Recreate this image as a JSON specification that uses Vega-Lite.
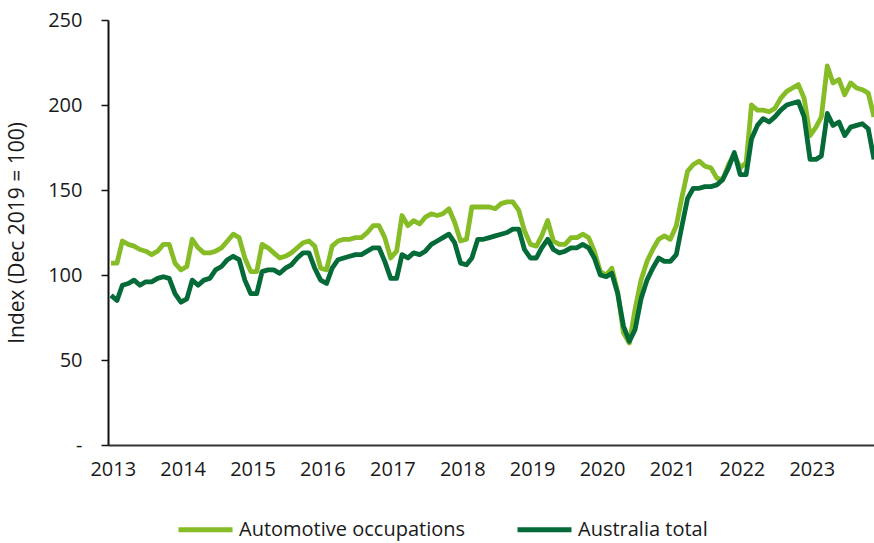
{
  "$schema": "https://vega.github.io/schema/vega-lite/v6.json",
  "width": 766,
  "height": 425,
  "autosize": {"type": "none"},
  "padding": {"left": 108, "top": 20, "right": 0, "bottom": 98},
  "background": "white",
  "config": {
    "view": {"stroke": null},
    "font": "Open Sans",
    "axis": {"labelFont": "Open Sans", "titleFont": "Open Sans", "labelColor": "#1a1a1a", "titleColor": "#1a1a1a", "grid": false},
    "legend": {"labelFont": "Open Sans", "labelColor": "#1a1a1a"}
  },
  "data": {
    "values": [
      {"month":"2013-01-01","Automotive occupations":107,"Australia total":88},
      {"month":"2013-02-01","Automotive occupations":107,"Australia total":85},
      {"month":"2013-03-01","Automotive occupations":120,"Australia total":94},
      {"month":"2013-04-01","Automotive occupations":118,"Australia total":95},
      {"month":"2013-05-01","Automotive occupations":117,"Australia total":97},
      {"month":"2013-06-01","Automotive occupations":115,"Australia total":94},
      {"month":"2013-07-01","Automotive occupations":114,"Australia total":96},
      {"month":"2013-08-01","Automotive occupations":112,"Australia total":96},
      {"month":"2013-09-01","Automotive occupations":114,"Australia total":98},
      {"month":"2013-10-01","Automotive occupations":118,"Australia total":99},
      {"month":"2013-11-01","Automotive occupations":118,"Australia total":98},
      {"month":"2013-12-01","Automotive occupations":107,"Australia total":89},
      {"month":"2014-01-01","Automotive occupations":103,"Australia total":84},
      {"month":"2014-02-01","Automotive occupations":105,"Australia total":86},
      {"month":"2014-03-01","Automotive occupations":121,"Australia total":97},
      {"month":"2014-04-01","Automotive occupations":116,"Australia total":94},
      {"month":"2014-05-01","Automotive occupations":113,"Australia total":97},
      {"month":"2014-06-01","Automotive occupations":113,"Australia total":98},
      {"month":"2014-07-01","Automotive occupations":114,"Australia total":103},
      {"month":"2014-08-01","Automotive occupations":116,"Australia total":105},
      {"month":"2014-09-01","Automotive occupations":120,"Australia total":109},
      {"month":"2014-10-01","Automotive occupations":124,"Australia total":111},
      {"month":"2014-11-01","Automotive occupations":122,"Australia total":109},
      {"month":"2014-12-01","Automotive occupations":110,"Australia total":97},
      {"month":"2015-01-01","Automotive occupations":102,"Australia total":89},
      {"month":"2015-02-01","Automotive occupations":102,"Australia total":89},
      {"month":"2015-03-01","Automotive occupations":118,"Australia total":102},
      {"month":"2015-04-01","Automotive occupations":116,"Australia total":103},
      {"month":"2015-05-01","Automotive occupations":113,"Australia total":103},
      {"month":"2015-06-01","Automotive occupations":110,"Australia total":101},
      {"month":"2015-07-01","Automotive occupations":111,"Australia total":104},
      {"month":"2015-08-01","Automotive occupations":113,"Australia total":106},
      {"month":"2015-09-01","Automotive occupations":116,"Australia total":110},
      {"month":"2015-10-01","Automotive occupations":119,"Australia total":113},
      {"month":"2015-11-01","Automotive occupations":120,"Australia total":113},
      {"month":"2015-12-01","Automotive occupations":117,"Australia total":104},
      {"month":"2016-01-01","Automotive occupations":104,"Australia total":97},
      {"month":"2016-02-01","Automotive occupations":103,"Australia total":95},
      {"month":"2016-03-01","Automotive occupations":117,"Australia total":104},
      {"month":"2016-04-01","Automotive occupations":120,"Australia total":109},
      {"month":"2016-05-01","Automotive occupations":121,"Australia total":110},
      {"month":"2016-06-01","Automotive occupations":121,"Australia total":111},
      {"month":"2016-07-01","Automotive occupations":122,"Australia total":112},
      {"month":"2016-08-01","Automotive occupations":122,"Australia total":112},
      {"month":"2016-09-01","Automotive occupations":125,"Australia total":114},
      {"month":"2016-10-01","Automotive occupations":129,"Australia total":116},
      {"month":"2016-11-01","Automotive occupations":129,"Australia total":116},
      {"month":"2016-12-01","Automotive occupations":122,"Australia total":108},
      {"month":"2017-01-01","Automotive occupations":110,"Australia total":98},
      {"month":"2017-02-01","Automotive occupations":114,"Australia total":98},
      {"month":"2017-03-01","Automotive occupations":135,"Australia total":112},
      {"month":"2017-04-01","Automotive occupations":129,"Australia total":110},
      {"month":"2017-05-01","Automotive occupations":132,"Australia total":113},
      {"month":"2017-06-01","Automotive occupations":130,"Australia total":112},
      {"month":"2017-07-01","Automotive occupations":134,"Australia total":114},
      {"month":"2017-08-01","Automotive occupations":136,"Australia total":118},
      {"month":"2017-09-01","Automotive occupations":135,"Australia total":120},
      {"month":"2017-10-01","Automotive occupations":136,"Australia total":122},
      {"month":"2017-11-01","Automotive occupations":139,"Australia total":124},
      {"month":"2017-12-01","Automotive occupations":131,"Australia total":119},
      {"month":"2018-01-01","Automotive occupations":120,"Australia total":107},
      {"month":"2018-02-01","Automotive occupations":121,"Australia total":106},
      {"month":"2018-03-01","Automotive occupations":140,"Australia total":110},
      {"month":"2018-04-01","Automotive occupations":140,"Australia total":121},
      {"month":"2018-05-01","Automotive occupations":140,"Australia total":121},
      {"month":"2018-06-01","Automotive occupations":140,"Australia total":122},
      {"month":"2018-07-01","Automotive occupations":139,"Australia total":123},
      {"month":"2018-08-01","Automotive occupations":142,"Australia total":124},
      {"month":"2018-09-01","Automotive occupations":143,"Australia total":125},
      {"month":"2018-10-01","Automotive occupations":143,"Australia total":127},
      {"month":"2018-11-01","Automotive occupations":138,"Australia total":127},
      {"month":"2018-12-01","Automotive occupations":126,"Australia total":115},
      {"month":"2019-01-01","Automotive occupations":118,"Australia total":110},
      {"month":"2019-02-01","Automotive occupations":117,"Australia total":110},
      {"month":"2019-03-01","Automotive occupations":123,"Australia total":116},
      {"month":"2019-04-01","Automotive occupations":132,"Australia total":121},
      {"month":"2019-05-01","Automotive occupations":120,"Australia total":115},
      {"month":"2019-06-01","Automotive occupations":118,"Australia total":113},
      {"month":"2019-07-01","Automotive occupations":118,"Australia total":114},
      {"month":"2019-08-01","Automotive occupations":122,"Australia total":116},
      {"month":"2019-09-01","Automotive occupations":122,"Australia total":116},
      {"month":"2019-10-01","Automotive occupations":124,"Australia total":118},
      {"month":"2019-11-01","Automotive occupations":122,"Australia total":116},
      {"month":"2019-12-01","Automotive occupations":114,"Australia total":110},
      {"month":"2020-01-01","Automotive occupations":102,"Australia total":100},
      {"month":"2020-02-01","Automotive occupations":100,"Australia total":99},
      {"month":"2020-03-01","Automotive occupations":104,"Australia total":101},
      {"month":"2020-04-01","Automotive occupations":90,"Australia total":89},
      {"month":"2020-05-01","Automotive occupations":66,"Australia total":70},
      {"month":"2020-06-01","Automotive occupations":60,"Australia total":61},
      {"month":"2020-07-01","Automotive occupations":80,"Australia total":68},
      {"month":"2020-08-01","Automotive occupations":97,"Australia total":86},
      {"month":"2020-09-01","Automotive occupations":108,"Australia total":97},
      {"month":"2020-10-01","Automotive occupations":115,"Australia total":104},
      {"month":"2020-11-01","Automotive occupations":121,"Australia total":110},
      {"month":"2020-12-01","Automotive occupations":123,"Australia total":108},
      {"month":"2021-01-01","Automotive occupations":121,"Australia total":108},
      {"month":"2021-02-01","Automotive occupations":129,"Australia total":112},
      {"month":"2021-03-01","Automotive occupations":145,"Australia total":128},
      {"month":"2021-04-01","Automotive occupations":161,"Australia total":145},
      {"month":"2021-05-01","Automotive occupations":165,"Australia total":151},
      {"month":"2021-06-01","Automotive occupations":167,"Australia total":151},
      {"month":"2021-07-01","Automotive occupations":164,"Australia total":152},
      {"month":"2021-08-01","Automotive occupations":163,"Australia total":152},
      {"month":"2021-09-01","Automotive occupations":157,"Australia total":153},
      {"month":"2021-10-01","Automotive occupations":156,"Australia total":156},
      {"month":"2021-11-01","Automotive occupations":165,"Australia total":163},
      {"month":"2021-12-01","Automotive occupations":171,"Australia total":172},
      {"month":"2022-01-01","Automotive occupations":163,"Australia total":159},
      {"month":"2022-02-01","Automotive occupations":166,"Australia total":159},
      {"month":"2022-03-01","Automotive occupations":200,"Australia total":180},
      {"month":"2022-04-01","Automotive occupations":197,"Australia total":188},
      {"month":"2022-05-01","Automotive occupations":197,"Australia total":192},
      {"month":"2022-06-01","Automotive occupations":196,"Australia total":190},
      {"month":"2022-07-01","Automotive occupations":198,"Australia total":193},
      {"month":"2022-08-01","Automotive occupations":204,"Australia total":197},
      {"month":"2022-09-01","Automotive occupations":208,"Australia total":200},
      {"month":"2022-10-01","Automotive occupations":210,"Australia total":201},
      {"month":"2022-11-01","Automotive occupations":212,"Australia total":202},
      {"month":"2022-12-01","Automotive occupations":204,"Australia total":193},
      {"month":"2023-01-01","Automotive occupations":182,"Australia total":168},
      {"month":"2023-02-01","Automotive occupations":187,"Australia total":168},
      {"month":"2023-03-01","Automotive occupations":193,"Australia total":170},
      {"month":"2023-04-01","Automotive occupations":223,"Australia total":195},
      {"month":"2023-05-01","Automotive occupations":213,"Australia total":188},
      {"month":"2023-06-01","Automotive occupations":215,"Australia total":190},
      {"month":"2023-07-01","Automotive occupations":206,"Australia total":182},
      {"month":"2023-08-01","Automotive occupations":213,"Australia total":187},
      {"month":"2023-09-01","Automotive occupations":210,"Australia total":188},
      {"month":"2023-10-01","Automotive occupations":209,"Australia total":189},
      {"month":"2023-11-01","Automotive occupations":207,"Australia total":186},
      {"month":"2023-12-01","Automotive occupations":193,"Australia total":168}
    ]
  },
  "transform": [
    {"fold": ["Automotive occupations", "Australia total"], "as": ["series", "value"]}
  ],
  "mark": {"type": "line", "strokeWidth": 4.8, "strokeJoin": "round", "clip": true},
  "encoding": {
    "x": {
      "field": "month",
      "type": "temporal",
      "scale": {"type": "utc", "domain": ["2012-12-16", "2023-12-01"]},
      "axis": {
        "title": null,
        "format": "%Y",
        "values": [
          {"year": 2013, "month": 1, "date": 10, "utc": true},
          {"year": 2014, "month": 1, "date": 10, "utc": true},
          {"year": 2015, "month": 1, "date": 10, "utc": true},
          {"year": 2016, "month": 1, "date": 10, "utc": true},
          {"year": 2017, "month": 1, "date": 10, "utc": true},
          {"year": 2018, "month": 1, "date": 10, "utc": true},
          {"year": 2019, "month": 1, "date": 10, "utc": true},
          {"year": 2020, "month": 1, "date": 10, "utc": true},
          {"year": 2021, "month": 1, "date": 10, "utc": true},
          {"year": 2022, "month": 1, "date": 10, "utc": true},
          {"year": 2023, "month": 1, "date": 10, "utc": true}
        ],
        "ticks": false,
        "labelFontSize": 20,
        "labelPadding": 14,
        "labelFlush": false,
        "labelOverlap": false,
        "domainColor": "#333333",
        "domainWidth": 2
      }
    },
    "y": {
      "field": "value",
      "type": "quantitative",
      "scale": {"domain": [0, 250], "nice": false},
      "axis": {
        "title": "Index (Dec 2019 = 100)",
        "values": [0, 50, 100, 150, 200, 250],
        "labelExpr": "datum.value == 0 ? '-' : datum.label",
        "labelFontSize": 20,
        "titleFontSize": 21,
        "titleFontWeight": "normal",
        "titlePadding": 20,
        "tickSize": 7,
        "tickColor": "#111111",
        "tickWidth": 1.5,
        "labelPadding": 19,
        "domainColor": "#111111",
        "domainWidth": 2
      }
    },
    "color": {
      "field": "series",
      "type": "nominal",
      "scale": {"domain": ["Automotive occupations", "Australia total"], "range": ["#86BC25", "#046A38"]},
      "legend": {
        "title": null,
        "orient": "none",
        "legendX": 68,
        "legendY": 480,
        "direction": "horizontal",
        "symbolType": "stroke",
        "symbolSize": 2916,
        "symbolStrokeWidth": 5,
        "labelFontSize": 20,
        "labelLimit": 400,
        "labelOffset": 4,
        "columnPadding": 41,
        "padding": 0
      }
    }
  }
}
